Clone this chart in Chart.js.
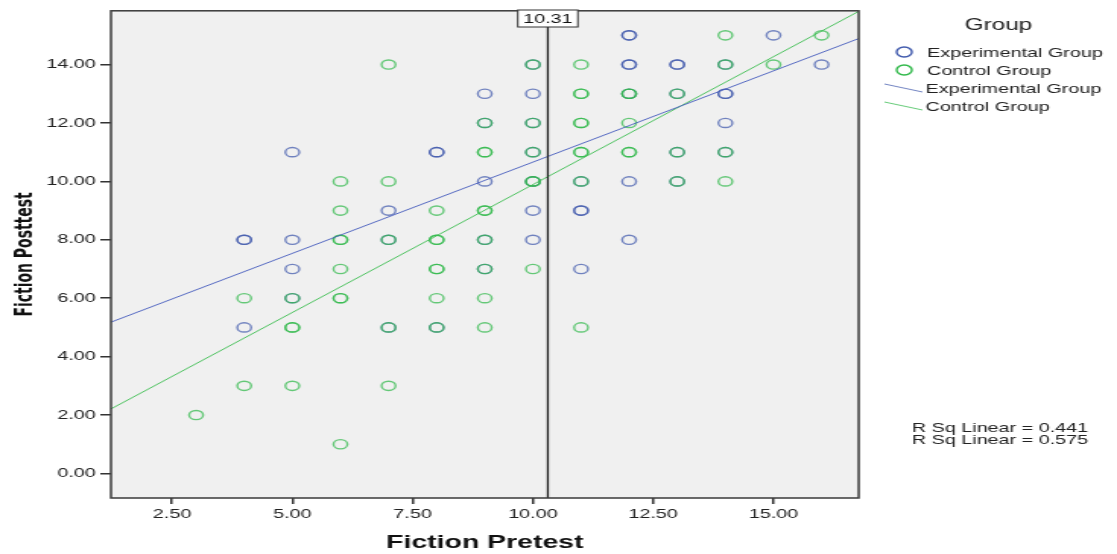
<!DOCTYPE html>
<html>
<head>
<meta charset="utf-8">
<title>Fiction Pretest vs Posttest</title>
<script src="https://cdn.jsdelivr.net/npm/chart.js@4.4.1/dist/chart.umd.min.js"></script>
<style>
    html, body { margin: 0; padding: 0; background: #fff; }
    #chart { width: 1117px; height: 554px; }
</style>
</head>
<body>
<!-- drawn narrow then stretched sideways, like the exported SPSS picture -->
<canvas id="chart" width="735" height="554" style="width:1117px;height:554px"></canvas>
<script>
// Experimental group (pretest, posttest)
const expPre  = [4, 4, 4, 5, 5, 5, 5, 7, 7, 7, 8, 8, 8, 9, 9, 9, 9, 9,
                 10, 10, 10, 10, 10, 10, 10, 11, 11, 11, 11,
                 12, 12, 12, 12, 12, 12, 12, 13, 13, 13, 13, 13,
                 14, 14, 14, 14, 14, 15, 16];
const expPost = [8, 8, 5, 11, 8, 7, 6, 9, 8, 5, 11, 11, 5, 13, 12, 10, 8, 7,
                 14, 13, 12, 11, 10, 9, 8, 10, 9, 9, 7,
                 15, 15, 14, 14, 13, 10, 8, 14, 14, 13, 11, 10,
                 14, 13, 13, 12, 11, 15, 14];

// Control group (pretest, posttest)
const ctrlPre  = [3, 4, 4, 5, 5, 5, 5, 6, 6, 6, 6, 6, 6, 6, 6,
                  7, 7, 7, 7, 7, 8, 8, 8, 8, 8, 8, 8,
                  9, 9, 9, 9, 9, 9, 9, 9, 9, 10, 10, 10, 10, 10, 10,
                  11, 11, 11, 11, 11, 11, 11, 11, 11, 12, 12, 12, 12, 12,
                  13, 13, 13, 14, 14, 14, 14, 15, 16];
const ctrlPost = [2, 6, 3, 6, 5, 5, 3, 10, 9, 8, 8, 7, 6, 6, 1,
                  14, 10, 8, 5, 3, 9, 8, 8, 7, 7, 6, 5,
                  12, 11, 11, 9, 9, 8, 7, 6, 5, 14, 12, 11, 10, 10, 7,
                  14, 13, 13, 12, 12, 11, 11, 10, 5, 13, 13, 12, 11, 11,
                  13, 11, 10, 15, 14, 11, 10, 14, 15];

// Linear fit lines, read at the left and right edge of the plot
const fitX     = [1.23, 16.77];
const expFitY  = [5.18, 14.89];
const ctrlFitY = [2.21, 15.82];

// Reference line at the pretest mean
const meanPre = 10.31;

// Axes
const xMin = 1.23, xMax = 16.77, xStep = 2.5;
const yMin = -0.84, yMax = 15.84, yStep = 2;

const groupNames = ['Experimental Group', 'Control Group'];
const rSquared = [0.441, 0.575];

const BLUE = 'rgba(62, 88, 172, 0.72)';
const GREEN = 'rgba(46, 184, 72, 0.72)';

function toPoints(xs, ys) {
    return xs.map((x, i) => ({ x: x, y: ys[i] }));
}

Chart.defaults.font.family = "'Liberation Sans', Arial, sans-serif";
Chart.defaults.color = '#222';

// grey plot background
const plotBackground = {
    id: 'plotBackground',
    beforeDraw(chart) {
        const { ctx, chartArea: a } = chart;
        ctx.save();
        ctx.fillStyle = '#fff';
        ctx.fillRect(0, 0, chart.width, chart.height);
        ctx.fillStyle = '#f0f0f0';
        ctx.fillRect(a.left, a.top, a.right - a.left, a.bottom - a.top);
        ctx.restore();
    }
};

// frame, mean label, legend and R sq notes
const frameAndNotes = {
    id: 'frameAndNotes',
    afterDraw(chart) {
        const { ctx, chartArea: a } = chart;
        const xs = chart.scales.x;
        ctx.save();

        ctx.strokeStyle = '#3a3a3a';
        ctx.lineWidth = 1.5;
        ctx.strokeRect(a.left, a.top, a.right - a.left, a.bottom - a.top);

        // mean label box
        const mx = xs.getPixelForValue(meanPre);
        ctx.font = "13px 'Liberation Sans', Arial, sans-serif";
        const label = meanPre.toFixed(2);
        const tw = ctx.measureText(label).width + 7;
        ctx.fillStyle = '#fff';
        ctx.fillRect(mx - tw / 2, 10, tw, 17);
        ctx.strokeStyle = '#333';
        ctx.lineWidth = 1;
        ctx.strokeRect(mx - tw / 2, 10, tw, 17);
        ctx.fillStyle = '#111';
        ctx.textAlign = 'center';
        ctx.textBaseline = 'middle';
        ctx.fillText(label, mx, 19);

        // legend
        ctx.font = "16px 'Liberation Sans', Arial, sans-serif";
        ctx.fillStyle = '#222';
        ctx.fillText('Group', 657, 26);

        ctx.font = "13px 'Liberation Sans', Arial, sans-serif";
        ctx.textAlign = 'left';
        const colors = [BLUE, GREEN];
        const solid = ['#3e58ac', '#2eb848'];
        groupNames.forEach((name, i) => {
            const y = 52 + i * 18;
            ctx.beginPath();
            ctx.arc(595, y, 5, 0, Math.PI * 2);
            ctx.strokeStyle = solid[i];
            ctx.lineWidth = 1.4;
            ctx.stroke();
            ctx.fillStyle = '#222';
            ctx.fillText(name, 610, y + 1);
        });
        groupNames.forEach((name, i) => {
            const y = 88 + i * 18;
            ctx.beginPath();
            ctx.moveTo(582, y - 4);
            ctx.lineTo(607, y + 4);
            ctx.strokeStyle = colors[i];
            ctx.lineWidth = 1;
            ctx.stroke();
            ctx.fillStyle = '#222';
            ctx.fillText(name, 609, y + 1);
        });

        // R sq notes
        rSquared.forEach((r, i) => {
            ctx.fillText('R Sq Linear = ' + r.toFixed(3), 600, 428 + i * 12);
        });

        ctx.restore();
    }
};

new Chart(document.getElementById('chart'), {
    type: 'scatter',
    data: {
        datasets: [
            {
                label: groupNames[0],
                data: toPoints(expPre, expPost),
                pointStyle: 'circle',
                pointRadius: 4.6,
                pointBorderWidth: 1.4,
                borderColor: BLUE,
                backgroundColor: 'rgba(0,0,0,0)',
                order: 3
            },
            {
                label: groupNames[1],
                data: toPoints(ctrlPre, ctrlPost),
                pointStyle: 'circle',
                pointRadius: 4.6,
                pointBorderWidth: 1.4,
                borderColor: GREEN,
                backgroundColor: 'rgba(0,0,0,0)',
                order: 2
            },
            {
                type: 'line',
                label: groupNames[0] + ' fit',
                data: toPoints(fitX, expFitY),
                borderColor: 'rgba(70, 92, 190, 0.9)',
                borderWidth: 1,
                pointRadius: 0,
                order: 1
            },
            {
                type: 'line',
                label: groupNames[1] + ' fit',
                data: toPoints(fitX, ctrlFitY),
                borderColor: 'rgba(60, 190, 80, 0.9)',
                borderWidth: 1,
                pointRadius: 0,
                order: 1
            },
            {
                type: 'line',
                label: 'Mean',
                data: [{ x: meanPre, y: yMin }, { x: meanPre, y: yMax }],
                borderColor: '#222',
                borderWidth: 1.3,
                pointRadius: 0,
                order: 0
            }
        ]
    },
    options: {
        responsive: false,
        animation: false,
        devicePixelRatio: 1,
        layout: { padding: { top: 9, right: 170, left: 0, bottom: 0 } },
        plugins: {
            legend: { display: false },
            tooltip: { enabled: false }
        },
        scales: {
            x: {
                type: 'linear',
                min: xMin,
                max: xMax,
                afterFit: s => { s.height = 56; },
                grid: { drawOnChartArea: false, drawTicks: true, tickLength: 6, color: '#333', lineWidth: 1.5 },
                border: { display: false },
                ticks: {
                    stepSize: xStep,
                    includeBounds: false,
                    padding: 3,
                    maxRotation: 0,
                    font: { size: 13 },
                    color: '#222',
                    callback: v => v.toFixed(2)
                },
                title: {
                    display: true,
                    text: 'Fiction Pretest',
                    font: { size: 18.7, weight: 'bold' },
                    color: '#111',
                    padding: { top: 0, bottom: 0 }
                }
            },
            y: {
                type: 'linear',
                min: yMin,
                max: yMax,
                afterFit: s => { s.width = 73; },
                grid: { drawOnChartArea: false, drawTicks: true, tickLength: 7, color: '#333', lineWidth: 1.5 },
                border: { display: false },
                ticks: {
                    stepSize: yStep,
                    includeBounds: false,
                    padding: 3,
                    font: { size: 13 },
                    color: '#222',
                    callback: v => v.toFixed(2)
                },
                title: {
                    display: true,
                    text: 'Fiction Posttest',
                    font: { family: "'Liberation Sans Narrow', 'DejaVu Sans Condensed', Arial, sans-serif", size: 15.5, weight: 'bold' },
                    color: '#111',
                    padding: { top: 8, bottom: 0 }
                }
            }
        }
    },
    plugins: [plotBackground, frameAndNotes]
});
</script>
</body>
</html>
